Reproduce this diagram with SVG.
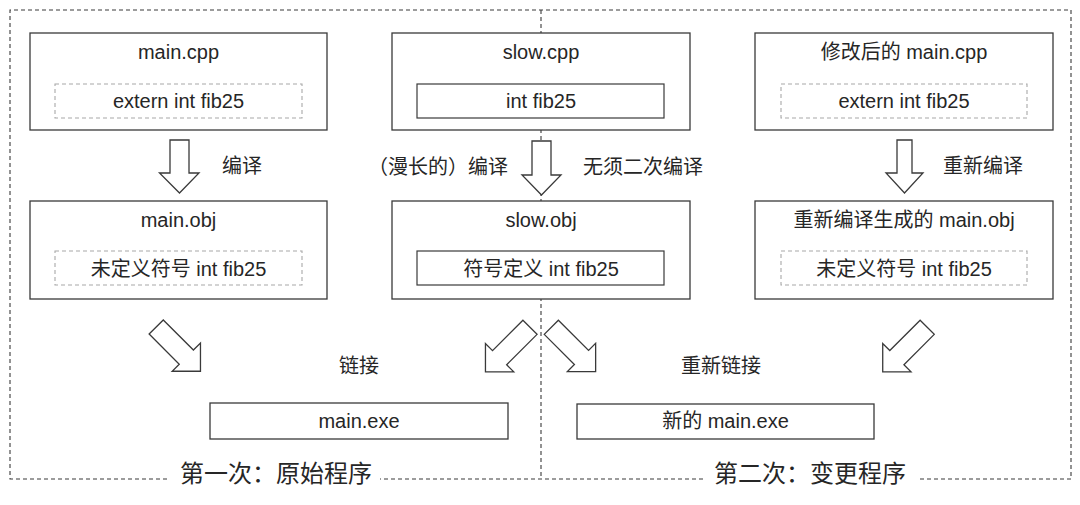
<svg xmlns="http://www.w3.org/2000/svg" width="1080" height="505" viewBox="0 0 1080 505">
<defs>
<style>
text{font-family:"Liberation Sans","Noto Sans CJK SC",sans-serif;fill:#262626;font-size:20px}
.c{text-anchor:middle}
.box{fill:#fff;stroke:#3a3a3a;stroke-width:1.3}
.inner{fill:none;stroke:#3a3a3a;stroke-width:1.2}
.dinner{fill:none;stroke:#a8a8a8;stroke-width:1.1;stroke-dasharray:4 3}
.frame{fill:none;stroke:#3a3a3a;stroke-width:1.1;stroke-dasharray:4 3}
.arr{fill:#fff;stroke:#3a3a3a;stroke-width:1.3;stroke-linejoin:miter}
.big{font-size:24px}
</style>
</defs>
<rect width="1080" height="505" fill="#fff"/>
<g id="frame">
<path class="frame" d="M167 479 H10 V10 H1071 V479 H917 M703 479 H380 M541 10 V479"/>
<text class="big" x="180" y="482">第一次：原始程序</text>
<text class="big" x="714" y="482">第二次：变更程序</text>
</g>
<g id="main_cpp">
<rect class="box" x="30" y="33" width="297" height="97"/>
<text class="c" x="178.5" y="59">main.cpp</text>
<rect class="dinner" x="55" y="84" width="247" height="34"/>
<text class="c" x="178.5" y="108">extern int fib25</text>
</g>
<g id="slow_cpp">
<rect class="box" x="392" y="33" width="298" height="97"/>
<text class="c" x="541" y="59">slow.cpp</text>
<rect class="inner" x="417" y="84" width="247" height="34"/>
<text class="c" x="541" y="108">int fib25</text>
</g>
<g id="main_cpp_mod">
<rect class="box" x="755" y="33" width="298" height="97"/>
<text class="c" x="904" y="59">修改后的 main.cpp</text>
<rect class="dinner" x="781" y="84" width="246" height="34"/>
<text class="c" x="904" y="108">extern int fib25</text>
</g>
<g id="main_obj">
<rect class="box" x="30" y="201" width="297" height="98"/>
<text class="c" x="178.5" y="227">main.obj</text>
<rect class="dinner" x="55" y="251" width="247" height="34"/>
<text class="c" x="178.5" y="276">未定义符号 int fib25</text>
</g>
<g id="slow_obj">
<rect class="box" x="392" y="201" width="298" height="98"/>
<text class="c" x="541" y="227">slow.obj</text>
<rect class="inner" x="417" y="251" width="247" height="34"/>
<text class="c" x="541" y="276">符号定义 int fib25</text>
</g>
<g id="main_obj_new">
<rect class="box" x="755" y="201" width="298" height="98"/>
<text class="c" x="904" y="227">重新编译生成的 main.obj</text>
<rect class="dinner" x="781" y="251" width="246" height="34"/>
<text class="c" x="904" y="276">未定义符号 int fib25</text>
</g>
<g id="main_exe">
<rect class="box" x="210" y="403" width="298" height="36"/>
<text class="c" x="359" y="428">main.exe</text>
</g>
<g id="main_exe_new">
<rect class="box" x="577" y="404" width="297" height="35"/>
<text class="c" x="725.5" y="428">新的 main.exe</text>
</g>
<g id="connectors">
<polygon class="arr" points="170,140 189,140 189,173 199,173 179.5,193 159.5,173 170,173"/>
<polygon class="arr" points="532,141 551,141 551,175 561,175 541.5,195 522,175 532,175"/>
<polygon class="arr" points="897,140 912,140 912,173 923,173 904.5,193 886,173 897,173"/>
<polygon class="arr" transform="translate(156.2,327) rotate(-45)" points="-10,0 10,0 10,42.6 20,42.6 0,62.6 -20,42.6 -10,42.6"/>
<polygon class="arr" transform="translate(530,327.3) rotate(45)" points="-10,0 10,0 10,43 20,43 0,63 -20,43 -10,43"/>
<polygon class="arr" transform="translate(551.3,327.3) rotate(-45)" points="-10,0 10,0 10,42.7 20,42.7 0,62.7 -20,42.7 -10,42.7"/>
<polygon class="arr" transform="translate(927.2,327.3) rotate(45)" points="-10,0 10,0 10,42.9 20,42.9 0,62.9 -20,42.9 -10,42.9"/>
<text x="222" y="173">编译</text>
<text x="508" y="174" style="text-anchor:end">（漫长的）编译</text>
<text x="583" y="174">无须二次编译</text>
<text x="943" y="173">重新编译</text>
<text x="339" y="373">链接</text>
<text x="681" y="373">重新链接</text>
</g>
</svg>
